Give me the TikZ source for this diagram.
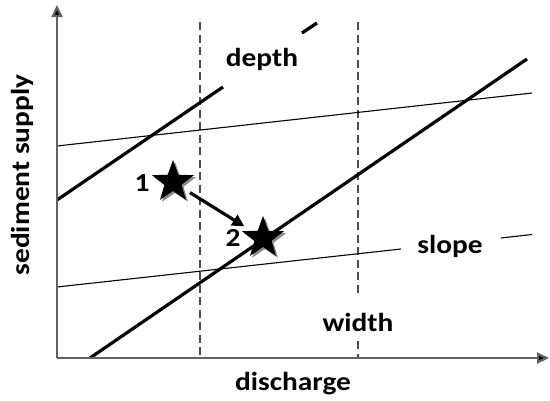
\documentclass[tikz,border=0pt]{standalone}
\usepackage{fontspec}
\setmainfont{Carlito}
\usetikzlibrary{shapes.geometric,arrows.meta}
\tikzset{
  axis/.style={line width=2.2pt, draw=black!62, -{Triangle[length=12pt,width=11pt,fill=black]}},
  thickline/.style={line width=3.2pt, black},
  thinline/.style={line width=1.1pt, black},
  dashline/.style={line width=1.4pt, draw=black!70, dash pattern=on 8pt off 4.5pt},
  lbl/.style={font=\bfseries\fontsize{26}{29}\selectfont, inner sep=0pt},
  starshape/.style={star, star points=5, star point ratio=2.45, minimum size=44pt, inner sep=0pt, fill=black},
  starshadow/.style={star, star points=5, star point ratio=2.45, minimum size=44pt, inner sep=0pt, fill=black!45},
}
\newcommand{\wide}[1]{\scalebox{1.13}[1]{#1}}
\begin{document}
\begin{tikzpicture}[x=1pt,y=-1pt]
\useasboundingbox (0,0) rectangle (550,400);
% dashed verticals
\draw[dashline] (200,22) -- (200,358);
\draw[dashline] (358,22) -- (358,293);
\draw[dashline] (358,341) -- (358,358);
% thin lines
\draw[thinline] (57,146) -- (532,93);
\draw[thinline] (57,287) -- (401,249);
\draw[thinline] (501,238) -- (532,234.5);
% thick lines
\draw[thickline] (57,200) -- (223,87);
\draw[thickline] (302,33) -- (317,23);
\draw[thickline] (90,358) -- (527,59);
% axes
\coordinate (O) at (57,358);
\coordinate (Ytip) at (57,5);
\coordinate (Xtip) at (549,358);
\draw[axis] (O) -- (Ytip);
\draw[axis] (O) -- (Xtip);
% labels
\node[lbl] (depth) at (262,59) {\wide{depth}};
\node[lbl] (width) at (358,322) {\wide{width}};
\node[lbl] (slope) at (450,246) {\wide{slope}};
\node[lbl] (discharge) at (293,384) {\wide{discharge}};
\node[lbl, rotate=90] (supply) at (22,175) {\wide{sediment supply}};
% stars
\node[starshadow] (sh1) at (175,184) {};
\node[starshape] (s1) at (173,182) {};
\node[starshadow] (sh2) at (265,240) {};
\node[starshape] (s2) at (263,238) {};
\node[lbl] (n1) at (142,183) {\wide{1}};
\node[lbl] (n2) at (233,238) {\wide{2}};
\draw[line width=3.2pt, -{Triangle[length=12pt,width=12pt]}, shorten <=20pt, shorten >=22pt] (s1.center) -- (s2.center);
\end{tikzpicture}
\end{document}
